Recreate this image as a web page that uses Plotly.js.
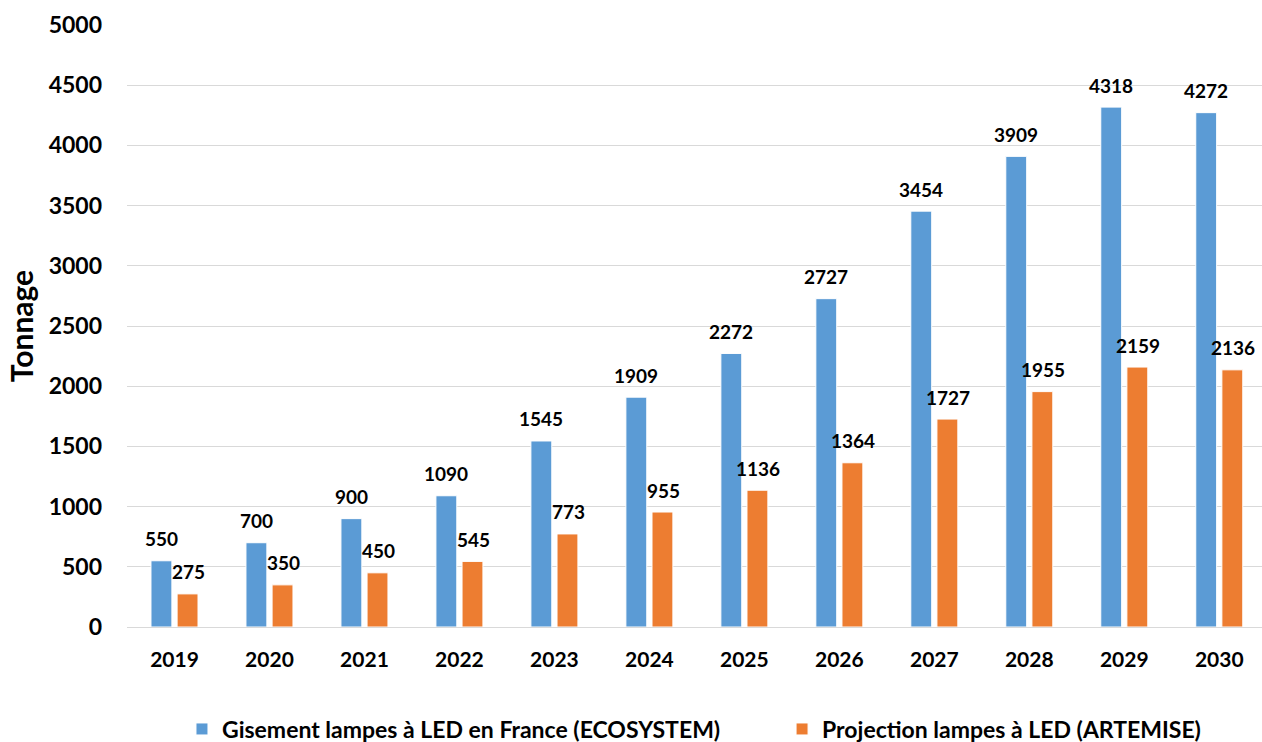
<!DOCTYPE html>
<html>
<head>
<meta charset="utf-8">
<script src="https://cdn.plot.ly/plotly-3.0.1.min.js"></script>
<style>html,body{margin:0;padding:0;background:#fff;}#chart{width:1262px;height:742px;}</style>
</head>
<body>
<div id="chart"></div>
<script>
const years = ['2019','2020','2021','2022','2023','2024','2025','2026','2027','2028','2029','2030'];
const gisement = [550, 700, 900, 1090, 1545, 1909, 2272, 2727, 3454, 3909, 4318, 4272];
const projection = [275, 350, 450, 545, 773, 955, 1136, 1364, 1727, 1955, 2159, 2136];
const nameGisement = 'Gisement lampes à LED en France (ECOSYSTEM)';
const nameProjection = 'Projection lampes à LED (ARTEMISE)';

const FONT = 'Lato, "Open Sans", sans-serif';
const blue = '#5B9BD5';
const orange = '#ED7D31';

const traces = [
  {type:'bar', x: years, y: gisement, name: nameGisement, legend:'legend',
   marker:{color: blue, line:{color:'#ffffff', width:1}}, hoverinfo:'none'},
  {type:'bar', x: years, y: projection, name: nameProjection, legend:'legend2',
   marker:{color: orange, line:{color:'#ffffff', width:1}}, hoverinfo:'none'}
];

const labelFont = {family:FONT, size:19, color:'#000', weight:'bold'};
const annotations = [];
years.forEach((yr, i) => {
  annotations.push({x: i, y: gisement[i], xref:'x', yref:'y', text: String(gisement[i]),
    showarrow:false, xshift:-13, yshift:22, yanchor:'middle', font:labelFont});
  annotations.push({x: i, y: projection[i], xref:'x', yref:'y', text: String(projection[i]),
    showarrow:false, xshift:14, yshift:22, yanchor:'middle', font:labelFont});
});

const legendFont = {family:FONT, size:23, color:'#000', weight:'bold'};
const layout = {
  width:1262, height:742,
  margin:{l:127, r:0, t:25, b:115},
  paper_bgcolor:'#fff', plot_bgcolor:'#fff',
  font:{family:FONT, color:'#000'},
  barmode:'group', bargap:0.45, bargroupgap:0.2,
  showlegend:true,
  legend:{orientation:'h', xref:'container', yref:'container', x:0.1442, xanchor:'left',
    y:0.0175, yanchor:'middle', font:legendFont},
  legend2:{orientation:'h', xref:'container', yref:'container', x:0.6197, xanchor:'left',
    y:0.0175, yanchor:'middle', font:legendFont},
  xaxis:{type:'category', range:[-0.5, 11.45], showgrid:false, zeroline:false, showline:false,
    ticks:'', ticklabelstandoff:18,
    tickfont:{family:FONT, size:21, color:'#000', weight:'bold'}},
  yaxis:{range:[0,5000], dtick:500, tick0:0, showgrid:true, gridcolor:'#d9d9d9', gridwidth:1,
    zeroline:true, zerolinecolor:'#d9d9d9', zerolinewidth:1, showline:false, ticks:'',
    ticklabelstandoff:24,
    tickfont:{family:FONT, size:23, color:'#000', weight:'bold'},
    title:{text:'Tonnage', standoff:6, font:{family:FONT, size:30, color:'#000', weight:'bold'}}},
  annotations: annotations
};

Plotly.newPlot('chart', traces, layout, {displayModeBar:false, staticPlot:true});
</script>
</body>
</html>
